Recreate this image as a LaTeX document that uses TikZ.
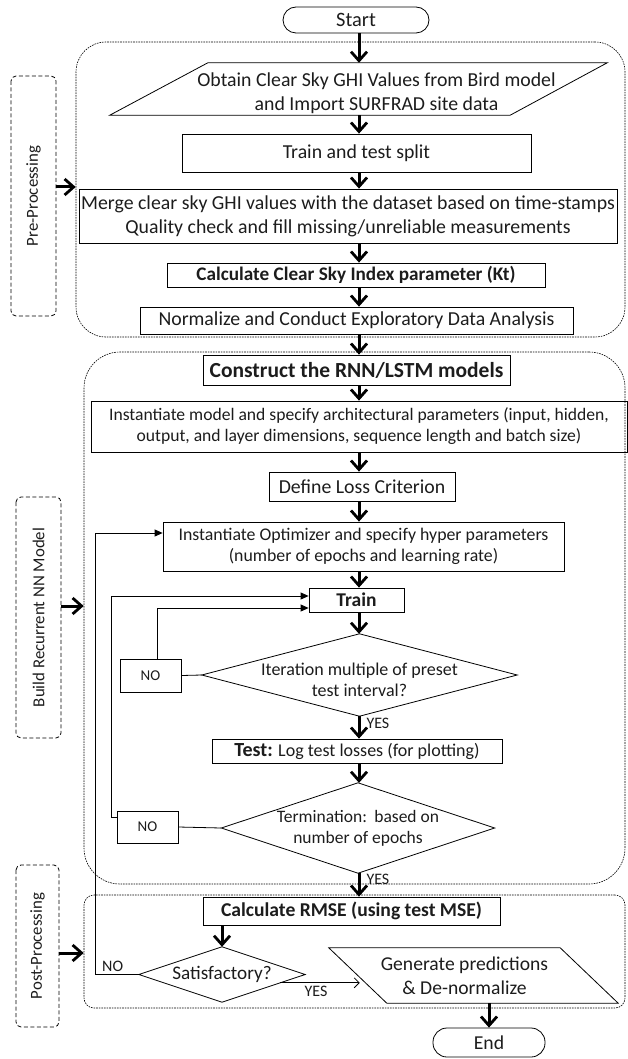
\documentclass[tikz,border=0pt]{standalone}
\usepackage{fontspec}
\setmainfont{Carlito}
\usetikzlibrary{arrows.meta,calc}
\definecolor{txt}{HTML}{1C1C1C}
\newcommand{\fz}[1]{\fontsize{#1}{\dimexpr #1pt*6/5\relax}\selectfont}
\begin{document}
\begin{tikzpicture}[x=1pt,y=-1pt,
  box/.style={draw,line width=0.8pt,inner sep=0pt,align=center,text=txt},
  plain/.style={inner sep=0pt,align=center,text=txt},
  region/.style={draw,line width=0.6pt,dash pattern=on 1.6pt off 1pt,inner sep=0pt},
  lab/.style={draw,line width=0.8pt,dash pattern=on 4pt off 2.5pt,rounded corners=5pt,rotate=90,inner sep=0pt,font=\fz{16.8},text=txt},
  spine/.style={line width=3pt,-{Straight Barb[length=9pt,width=16pt,line width=2.8pt]}},
  loop/.style={line width=0.8pt,-{Triangle[length=8pt,width=7pt]}},
  yesarr/.style={line width=0.8pt,-{Straight Barb[length=5pt,width=10pt,line width=0.8pt]}},
  small/.style={font=\fz{16},text=txt,inner sep=0pt},
  edge/.style={line width=0.8pt}
]
\useasboundingbox (0,0) rectangle (627,1059);
\coordinate (sp) at (359,0);
% regions
\node[region,rounded corners=30pt,minimum width=549pt,minimum height=295pt] (prereg) at (350.5,189.5) {};
\node[region,rounded corners=36pt,minimum width=541pt,minimum height=532pt] (buildreg) at (354.5,618) {};
\node[region,rounded corners=10pt,minimum width=541pt,minimum height=113pt] (postreg) at (354.5,951.5) {};
% side labels
\node[lab,minimum width=240pt,minimum height=45pt] (prelab) at (33.5,196) {Pre-Processing};
\node[lab,minimum width=241pt,minimum height=45pt] (buildlab) at (38.5,617.5) {Build Recurrent NN Model};
\node[lab,minimum width=162pt,minimum height=43pt] (postlab) at (37.5,946) {Post-Processing};
% main nodes
\node[box,rounded corners=13pt,minimum width=146pt,minimum height=26pt,font=\fz{20.4}] (start) at (356,20) {Start};
\node[plain,minimum width=497pt,minimum height=52pt,
  label={[plain,xshift=18pt,yshift=-4pt,font=\fz{19.8}]center:{Obtain Clear Sky GHI Values from Bird model\\ and Import SURFRAD site data}}] (obtain) at (358.5,89) {};
\draw[edge] ([xshift=98pt]obtain.north west) -- (obtain.north east) -- ([xshift=-97pt]obtain.south east) -- (obtain.south west) -- cycle;
\node[box,minimum width=349pt,minimum height=38pt,font=\fz{19.8}] (split) at (356.5,153) {Train and test split};
\node[box,minimum width=538pt,minimum height=54pt,font=\fz{19.8}] (merge) at (348,216) {Merge clear sky GHI values with the dataset based on time-stamps\\ Quality check and fill missing/unreliable measurements};
\node[box,minimum width=378pt,minimum height=24pt,font=\bfseries\fz{19.2}] (kt) at (356,275) {Calculate Clear Sky Index parameter (Kt)};
\node[box,minimum width=433pt,minimum height=27pt,font=\fz{19.8}] (norm) at (356.5,320.5) {Normalize and Conduct Exploratory Data Analysis};
\node[box,minimum width=307pt,minimum height=30pt,font=\bfseries\fz{21.5}] (construct) at (356.5,370) {Construct the RNN/LSTM models};
\node[box,minimum width=536pt,minimum height=51pt,font=\fz{17.6}] (inst) at (359,426.5) {Instantiate model and specify architectural parameters (input, hidden,\\ output, and layer dimensions, sequence length and batch size)};
\node[box,minimum width=186pt,minimum height=29pt,font=\fz{19.8}] (loss) at (362,486.5) {Define Loss Criterion};
\node[box,minimum width=401pt,minimum height=49pt,font=\fz{17.8}] (opt) at (363.5,546.5) {Instantiate Optimizer and specify hyper parameters\\ (number of epochs and learning rate)};
\node[box,minimum width=95pt,minimum height=24pt,font=\bfseries\fz{19.5}] (train) at (356.5,600) {Train};
\node[plain,minimum width=315pt,minimum height=82pt,
  label={[plain,yshift=-5pt,font=\fz{18}]center:{Iteration multiple of preset\\ test interval?}}] (d1) at (359.5,675) {};
\draw[edge] (d1.north) -- (d1.east) -- (d1.south) -- (d1.west) -- cycle;
\node[box,minimum width=61pt,minimum height=33pt,font=\fz{15}] (no1) at (150.5,675.5) {NO};
\node[box,minimum width=290pt,minimum height=24pt,font=\fz{18}] (test) at (357,751) {{\bfseries\fz{20}Test:} Log test losses (for plotting)};
\node[plain,minimum width=273pt,minimum height=90pt,font=\fz{17.5}] (d2) at (358,828) {Termination:\hspace{0.12em} based on\\ number of epochs};
\draw[edge] (d2.north) -- (d2.east) -- (d2.south) -- (d2.west) -- cycle;
\node[box,minimum width=61pt,minimum height=32pt,font=\fz{15}] (no2) at (147.5,827) {NO};
\node[box,minimum width=297pt,minimum height=28pt,font=\bfseries\fz{19.6}] (rmse) at (351.5,911) {Calculate RMSE (using test MSE)};
\node[plain,minimum width=166pt,minimum height=55pt,font=\fz{19.2}] (sat) at (222,974.5) {Satisfactory?};
\draw[edge] (sat.north) -- (sat.east) -- (sat.south) -- (sat.west) -- cycle;
\node[plain,minimum width=289pt,minimum height=55pt,font=\fz{19.6}] (gen) at (473.5,975.5) {\hspace*{-18pt}Generate predictions\\ \hspace*{-18pt}\& De-normalize};
\draw[edge] (gen.north west) -- ([xshift=-58pt]gen.north east) -- (gen.south east) -- ([xshift=58pt]gen.south west) -- cycle;
\node[box,rounded corners=14pt,minimum width=112pt,minimum height=29pt,font=\fz{19.7}] (endn) at (489,1042.5) {End};
% spine arrows
\draw[spine] (start.south -| sp) -- (obtain.north -| sp);
\draw[spine] (obtain.south -| sp) -- (split.north -| sp);
\draw[spine] (split.south -| sp) -- (merge.north -| sp);
\draw[spine] (merge.south -| sp) -- (kt.north -| sp);
\draw[spine] (kt.south -| sp) -- (norm.north -| sp);
\draw[spine] (norm.south -| sp) -- (construct.north -| sp);
\draw[spine] (construct.south -| sp) -- (inst.north -| sp);
\draw[spine] (inst.south -| sp) -- (loss.north -| sp);
\draw[spine] (loss.south -| sp) -- (opt.north -| sp);
\draw[spine] (opt.south -| sp) -- (train.north -| sp);
\draw[spine] (train.south -| sp) -- (d1.north -| sp);
\draw[spine] (d1.south -| sp) -- (test.north -| sp) node[pos=0.3,anchor=west,xshift=6pt,small] {YES};
\draw[spine] (test.south -| sp) -- (d2.north -| sp);
\draw[spine] (d2.south -| sp) -- (rmse.north -| sp) node[pos=0.25,anchor=west,xshift=6pt,small] {YES};
\draw[spine] (rmse.south -| sat.north) -- (sat.north);
\draw[spine] (gen.south -| endn.north) -- (endn.north);
% side label arrows
\draw[spine] (prelab.south |- 0,187) -- (prereg.west |- 0,187);
\draw[spine] (buildlab.south |- 0,606) -- (buildreg.west |- 0,606);
\draw[spine] (postlab.south |- 0,953) -- (postreg.west |- 0,953);
% diamond to NO
\draw[edge] (d1.west) -- (no1.east);
\draw[edge] (d2.west) -- (no2.east);
% loops
\draw[loop] ([xshift=6.5pt]no1.north) |- ([yshift=-8pt]train.west);
\draw[loop] ([yshift=10pt]no2.west) -- ++(-5,0) |- ([yshift=4pt]train.west);
\draw[loop] (sat.west) -- ++(-43,0) node[anchor=south west,xshift=6pt,yshift=3pt,small] {NO} |- ([yshift=13.5pt]opt.west);
% yes to generate
\coordinate (ys) at ($(sat.east)!0.3!(sat.south)$);
\coordinate (ye) at ($(gen.west)+(31,0)$);
\draw[yesarr] (ys) -- (ys -| ye) node[pos=0.45,anchor=north,yshift=-3pt,small] {YES};
\end{tikzpicture}
\end{document}
